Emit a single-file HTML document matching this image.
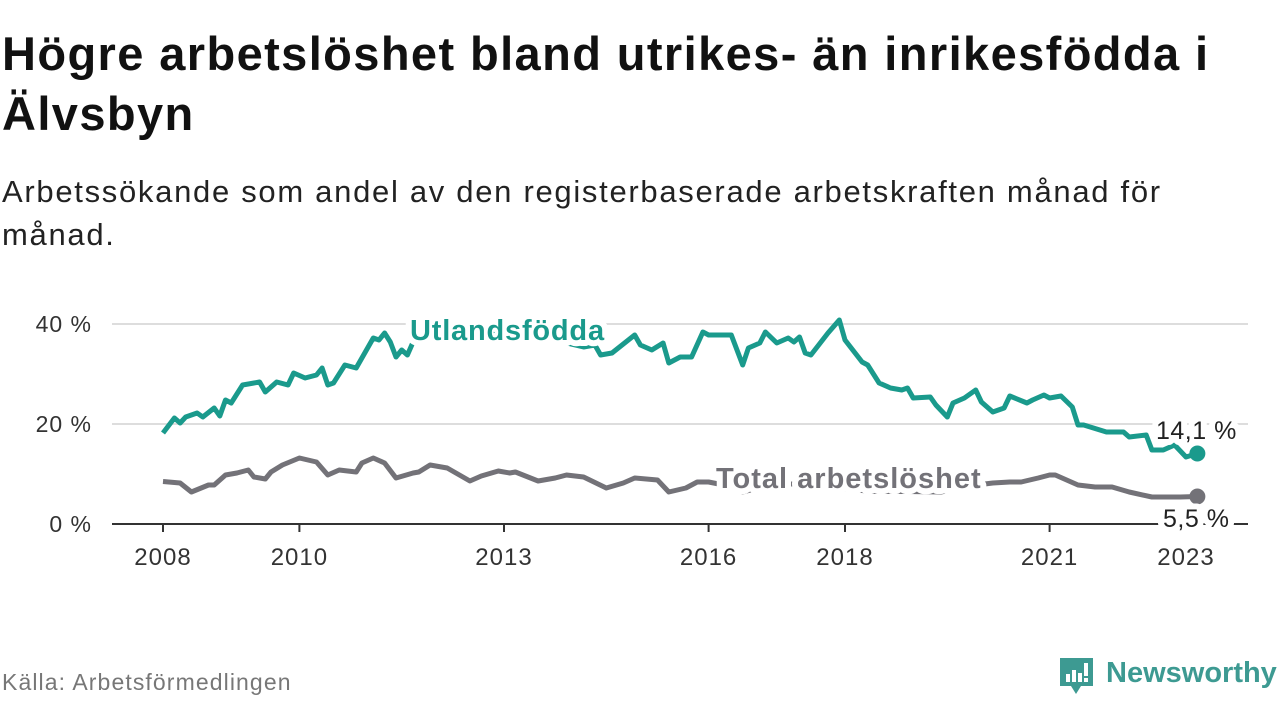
<!DOCTYPE html>
<html><head><meta charset="utf-8"><style>
body{margin:0;width:1280px;height:720px;background:#fff;font-family:"Liberation Sans",sans-serif;overflow:hidden;position:relative}
h1{position:absolute;left:2px;top:24px;margin:0;font-size:47px;line-height:60px;font-weight:bold;color:#111;width:1278px;letter-spacing:1.4px}
.sub{position:absolute;left:2px;top:170px;margin:0;font-size:31px;line-height:43px;color:#222;width:1278px;letter-spacing:1.7px}
.src{position:absolute;left:2px;top:669px;font-size:23px;color:#777;letter-spacing:1.1px}
.logo{position:absolute;left:1059px;top:655px}
</style></head><body>
<h1>Högre arbetslöshet bland utrikes- än inrikesfödda i<br>Älvsbyn</h1>
<p class="sub">Arbetssökande som andel av den registerbaserade arbetskraften månad för<br>månad.</p>
<svg id="chart" width="1280" height="720" style="position:absolute;left:0;top:0"></svg>
<div class="src">Källa: Arbetsförmedlingen</div>
<svg class="logo" width="222" height="42">
<path d="M1 3h33v28h-12l-5 8-5-8h-11z" fill="#3d9a92"/>
<rect x="7" y="19" width="4" height="8" fill="#fff"/><rect x="13" y="15" width="4" height="12" fill="#fff"/><rect x="19" y="18" width="4" height="9" fill="#fff"/><rect x="25" y="8" width="4" height="13" fill="#fff"/><rect x="25" y="23" width="4" height="4" fill="#fff"/>
<text x="47" y="27" font-size="29" font-weight="bold" fill="#3d9a92" font-family="Liberation Sans, sans-serif">Newsworthy</text>
</svg>
<script>
const yTicks=[0,20,40];
const yearLabels=[2008,2010,2013,2016,2018,2021,2023];
const monthsU=[0,2,3,4,6,7,9,10,11,12,14,17,18,20,22,23,25,27,28,29,30,32,34,37,38,39,40,41,42,43,44,50,56,62,68,74,76,77,79,83,84,86,88,89,91,93,95,96,100,102,103,105,106,108,110,111,112,113,114,117,119,120,123,124,126,128,130,131,132,135,136,138,139,141,143,144,146,148,149,152,153,155,156,158,160,161,162,166,169,170,173,174,176,178,180,182];
const valuesU=[18.2,21.2,20.2,21.4,22.2,21.4,23.2,21.6,24.8,24.2,27.8,28.4,26.4,28.4,27.8,30.2,29.2,29.8,31.2,27.8,28.2,31.8,31.2,37.2,36.8,38.2,36.4,33.4,34.8,33.8,36.4,38,38.5,37.5,37,35.4,35.8,33.8,34.2,37.8,35.8,34.8,36.2,32.2,33.4,33.4,38.4,37.8,37.8,31.8,35.2,36.2,38.4,36.2,37.2,36.4,37.4,34.2,33.8,38.2,40.8,36.8,32.4,31.8,28.2,27.2,26.8,27.2,25.2,25.4,23.8,21.4,24.2,25.2,26.8,24.4,22.4,23.2,25.6,24.2,24.8,25.8,25.2,25.6,23.4,19.8,19.8,18.4,18.4,17.4,17.8,14.8,14.8,15.8,13.4,14.1];
const monthsT=[0,3,5,8,9,11,13,15,16,18,19,21,24,27,29,31,34,35,37,39,41,44,45,47,50,54,56,59,61,62,66,69,71,74,78,81,83,87,89,92,94,96,100,102,106,110,115,120,125,131,137,141,146,149,151,154,156,157,161,164,167,170,174,177,179,182];
const valuesT=[8.5,8.2,6.4,7.8,7.8,9.8,10.2,10.8,9.4,9.0,10.4,11.8,13.2,12.4,9.8,10.8,10.4,12.2,13.2,12.2,9.2,10.2,10.4,11.8,11.2,8.6,9.6,10.6,10.2,10.4,8.6,9.2,9.8,9.4,7.2,8.2,9.2,8.8,6.4,7.2,8.4,8.4,7.5,6.4,7.5,8,8,7,6.5,6.5,6.4,7.5,8.2,8.4,8.4,9.2,9.8,9.8,7.8,7.4,7.4,6.4,5.4,5.4,5.4,5.5];
const NS='http://www.w3.org/2000/svg';
const svg=document.getElementById('chart');
const X=m=>163+m*68.2/12;
const Xy=y=>163+(y-2008)*68.2;
const Y=v=>524-v*5;
function el(t,a,p){const e=document.createElementNS(NS,t);for(const k in a)e.setAttribute(k,a[k]);(p||svg).appendChild(e);return e;}
yTicks.forEach(t=>{
  if(t>0){const g=el('line',{x1:112,x2:1248,y1:Y(t),y2:Y(t),stroke:'#ddd','stroke-width':2});
  
  }
  const l=el('text',{x:92,y:Y(t)+8,'text-anchor':'end','font-size':23,'letter-spacing':1,fill:'#333'});
  l.textContent=t+' %';
  
  
});
const base=el('line',{x1:112,x2:1248,y1:524,y2:524,stroke:'#333','stroke-width':2});


yearLabels.forEach(yr=>{
  const tk=el('line',{x1:Xy(yr),x2:Xy(yr),y1:524,y2:532,stroke:'#333','stroke-width':2});
  
  
  const l=el('text',{x:Xy(yr),y:565,'text-anchor':'middle','font-size':24,'letter-spacing':1,fill:'#333'});
  l.textContent=yr;
  
  
});
function series(ms,vs,col,name){
  const d=ms.map((m,i)=>(i?'L':'M')+X(m).toFixed(1)+' '+Y(vs[i]).toFixed(1)).join('');
  const p=el('path',{d:d,fill:'none',stroke:col,'stroke-width':5,'stroke-linejoin':'round'});
  
  
  const n=ms.length-1;
  const c=el('circle',{cx:X(ms[n]),cy:Y(vs[n]),r:8,fill:col});
  
  
}
series(monthsT,valuesT,'#737278','total');
series(monthsU,valuesU,'#1a9a8c','utlandsfodda');
const halo={stroke:'#fff','stroke-width':12,'paint-order':'stroke','stroke-linejoin':'round'};
function label(x,y,txt,col,size,bold,ls,name){
  const t=el('text',Object.assign({x:x,y:y,'font-size':size,'letter-spacing':ls,fill:col,'font-weight':bold?'bold':'normal'},halo));
  t.textContent=txt;
  
  
}
label(410,340,'Utlandsfödda','#1a9a8c',29,true,0.8,'series-label-utlandsfodda');
label(716,488,'Total arbetslöshet','#737278',29,true,1,'series-label-total');
const n=valuesU.length-1, m=valuesT.length-1;
label(1156,439,valuesU[n].toFixed(1).replace('.',',')+' %','#222',25,false,0.5,'end-value-utlandsfodda');
label(1163,527,valuesT[m].toFixed(1).replace('.',',')+' %','#222',25,false,0.5,'end-value-total');
</script>
</body></html>
